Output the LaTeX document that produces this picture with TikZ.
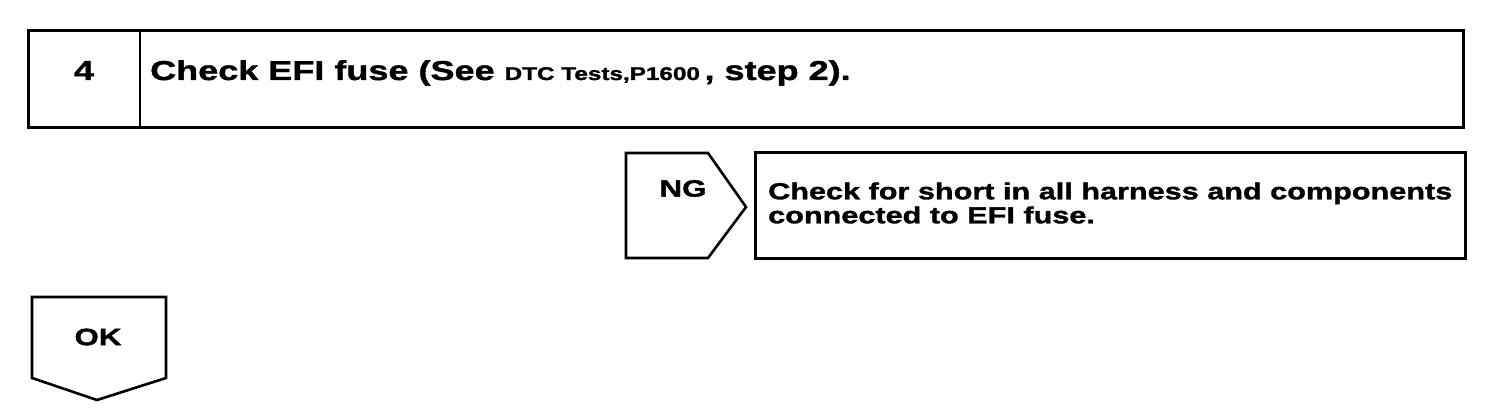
\documentclass[tikz,border=0pt]{standalone}
\usepackage{fontspec}
\setmainfont[FakeStretch=1.32, BoldFeatures={FakeBold=1.5}]{Liberation Sans}
\begin{document}
\begin{tikzpicture}[x=1pt,y=1pt,
  frame/.style={draw=black, line width=2.6pt, line join=miter},
  boxtxt/.style={font=\bfseries\fontsize{27.3}{30}\selectfont, inner sep=0pt},
  tagtxt/.style={font=\bfseries\fontsize{23.7}{28}\selectfont, inner sep=0pt},
  subtxt/.style={font=\bfseries\fontsize{23.2}{24}\selectfont, inner sep=0pt, align=left}]
\useasboundingbox (0,0) rectangle (1504,410);
% top box
\node[frame, rectangle, minimum width=1435pt, minimum height=97pt, anchor=north west, inner sep=0pt] (top) at (27,381) {};
\draw[frame] (140,381) -- (140,284);
\node[boxtxt] (num) at (84,339.5) {4};
\node[boxtxt, anchor=base west] (title) at (150,330) {Check EFI fuse (See {\fontsize{18.4}{20}\selectfont DTC Tests,P1600}\,, step 2).};
% NG tag
\draw[frame] (626,257) -- (708,257) -- (746,203) -- (708,152) -- (626,152) -- cycle;
\node[tagtxt] (ng) at (683,221.5) {NG};
% NG box
\node[frame, rectangle, minimum width=710pt, minimum height=106pt, anchor=north west, inner sep=0pt] (ngbox) at (754,259) {};
\node[subtxt, anchor=west] (ngtxt) at (768,207) {Check for short in all harness and components\\connected to EFI fuse.};
% OK tag
\draw[frame] (32,113) -- (166,113) -- (166,32) -- (97,10) -- (32,32) -- cycle;
\node[tagtxt] (ok) at (98,73) {OK};
\end{tikzpicture}
\end{document}
